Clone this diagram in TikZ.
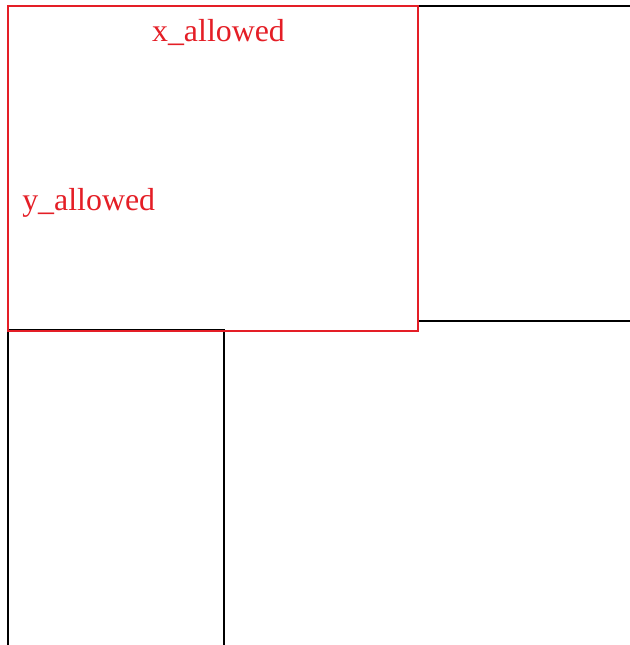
\documentclass[tikz,border=0pt]{standalone}
\usepackage{fontspec}
\setmainfont{Liberation Serif}
\definecolor{boxred}{RGB}{228,30,38}

\begin{document}
\begin{tikzpicture}[x=1bp,y=-1bp,line width=2.6bp,
  lbl/.style={boxred,inner sep=0pt,font=\fontsize{32}{38}\selectfont}]
\useasboundingbox (0,0) rectangle (630,645);
\clip (0,0) rectangle (630,645);
\draw (418,6) rectangle (660,321);
\draw (8,330) rectangle (224,680);
\draw[boxred] (8,6) rectangle (418,331);
\node[lbl,anchor=base] (xallowed) at (218.5,42) {x\_allowed};
\node[lbl,anchor=base west] (yallowed) at (21,210) {y\_allowed};
\end{tikzpicture}
\end{document}
